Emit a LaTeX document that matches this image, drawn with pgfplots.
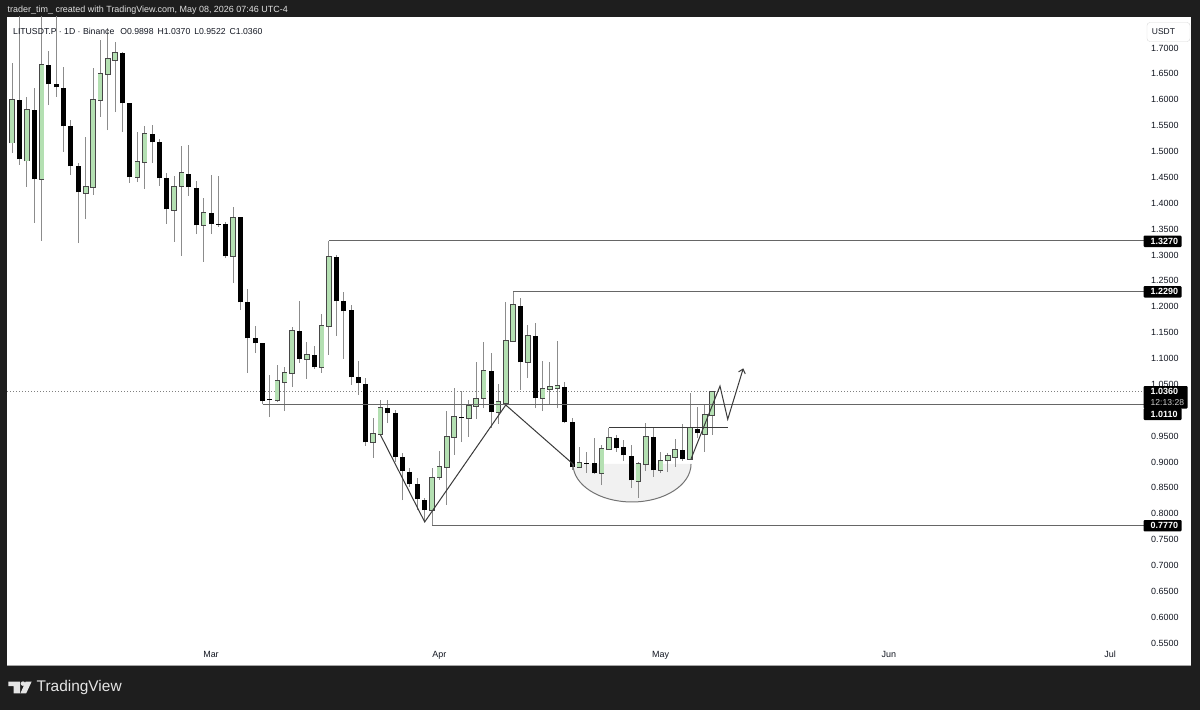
\documentclass[border=0pt]{standalone}
\usepackage{fontspec}
\setmainfont{Liberation Sans}
\usepackage{pgfplots}
\pgfplotsset{compat=1.18}
\usepackage{pgfplotstable}
\usetikzlibrary{arrows.meta}
\definecolor{bg}{HTML}{1E1E1E}
\definecolor{cgreen}{HTML}{B4E0B2}
\definecolor{cbord}{HTML}{474747}
\definecolor{wick}{HTML}{8C8C8C}
\definecolor{txt}{HTML}{131722}
\definecolor{lvl}{HTML}{666666}
\definecolor{pat}{HTML}{3A3A3A}
\definecolor{cupfill}{HTML}{F1F1F1}

% d O H L C   (d = days from 1 March 2026)
\pgfplotstableread{
d O H L C
-27 1.5170 1.6710 1.4971 1.5995
-25 1.4822 1.6053 1.4319 1.5802
-23 1.4468 1.8000 1.3270 1.6671
-17 1.4198 1.5280 1.3695 1.4314
-16 1.4314 1.6613 1.4159 1.5995
-15 1.5995 1.7155 1.5667 1.6498
-14 1.6498 1.7386 1.5415 1.6788
-13 1.6768 1.7116 1.5763 1.6903
-10 1.4507 1.5376 1.4410 1.4797
-9 1.4797 1.5492 1.4275 1.5338
-5 1.3869 1.4526 1.3251 1.4314
-4 1.4333 1.5106 1.2980 1.4584
-1 1.3579 1.4101 1.2864 1.3811
3 1.2980 1.3927 1.2458 1.3714
9 1.0197 1.0873 1.0158 1.0564
10 1.0545 1.0835 0.9984 1.0719
11 1.0719 1.1608 1.0448 1.1530
13 1.0990 1.1318 1.0603 1.1067
15 1.0835 1.1859 1.0719 1.1627
16 1.1627 1.3270 1.1067 1.2961
22 0.9385 0.9849 0.9076 0.9540
23 0.9540 1.0197 0.9521 1.0042
30 0.8071 0.8883 0.7770 0.8690
31 0.8709 0.9211 0.8651 0.8902
32 0.8902 0.9984 0.8168 0.9482
33 0.9482 1.0429 0.9134 0.9868
35 0.9849 1.0197 0.9482 1.0081
36 1.0081 1.0931 0.9830 1.0216
37 1.0236 1.1318 1.0042 1.0757
39 0.9965 1.0506 0.9733 1.0158
40 1.0139 1.2091 1.0100 1.1337
41 1.1337 1.2290 1.1318 1.2033
43 1.0931 1.1646 1.0622 1.1434
45 1.0236 1.0951 0.9984 1.0409
46 1.0409 1.0931 1.0100 1.0448
47 1.0429 1.1337 1.0042 1.0467
50 0.8902 0.9289 0.8883 0.8980
53 0.8786 0.9327 0.8554 0.9250
54 0.9250 0.9656 0.9231 0.9463
58 0.8632 0.8999 0.8303 0.8960
59 0.8960 0.9752 0.8825 0.9482
61 0.8844 0.9192 0.8786 0.9018
62 0.9038 0.9173 0.8805 0.9115
63 0.9095 0.9443 0.8902 0.9231
65 0.9057 1.0332 0.9038 0.9656
67 0.9540 1.0100 0.9192 0.9907
68 0.9898 1.0370 0.9522 1.0360
}\greenC

\pgfplotstableread{
d O H L C
-26 1.5995 1.8000 1.4739 1.4855
-24 1.5802 1.6227 1.3618 1.4468
-22 1.6671 1.6942 1.5898 1.6304
-21 1.6304 1.8000 1.6053 1.6246
-20 1.6227 1.6633 1.4990 1.5492
-19 1.5492 1.5608 1.4546 1.4720
-18 1.4720 1.4777 1.3231 1.4217
-12 1.6903 1.6923 1.5376 1.5937
-11 1.5937 1.5937 1.4391 1.4507
-8 1.5338 1.5511 1.4777 1.5184
-7 1.5184 1.5241 1.4333 1.4488
-6 1.4488 1.4584 1.3599 1.3888
-3 1.4565 1.5125 1.4140 1.4314
-2 1.4295 1.4430 1.3405 1.3579
0 1.3811 1.4546 1.3405 1.3599
1 1.3599 1.4526 1.3541 1.3589
2 1.3599 1.3637 1.2941 1.2980
4 1.3734 1.3734 1.1936 1.2091
5 1.2091 1.2342 1.0719 1.1395
6 1.1395 1.1627 1.1105 1.1299
7 1.1299 1.1299 1.0110 1.0178
8 1.0216 1.0680 0.9868 1.0200
12 1.1530 1.2110 1.0912 1.0990
14 1.1067 1.1241 1.0796 1.0835
17 1.2961 1.3000 1.1434 1.2110
18 1.2110 1.2284 1.0990 1.1917
19 1.1936 1.2033 1.0487 1.0642
20 1.0642 1.0951 1.0294 1.0525
21 1.0506 1.0622 0.9308 0.9385
24 1.0042 1.0197 0.9752 0.9946
25 0.9946 1.0004 0.8999 0.9095
26 0.9095 0.9173 0.8264 0.8825
27 0.8805 0.8883 0.8516 0.8574
28 0.8574 0.8690 0.8071 0.8284
29 0.8264 0.8303 0.7840 0.8071
34 0.9868 1.0371 0.9385 0.9849
38 1.0757 1.1105 0.9656 0.9965
42 1.2013 1.2168 1.0390 1.0931
44 1.1434 1.1685 1.0042 1.0236
48 1.0448 1.0545 0.9752 0.9772
49 0.9772 0.9849 0.8844 0.8902
51 0.8980 0.9192 0.8786 0.8975
52 0.8980 0.9463 0.8776 0.8786
55 0.9463 0.9521 0.9192 0.9269
56 0.9289 0.9424 0.9018 0.9134
57 0.9115 0.9327 0.8496 0.8651
60 0.9482 0.9656 0.8709 0.8844
64 0.9231 0.9733 0.9018 0.9057
66 0.9637 1.0062 0.9463 0.9559
}\blackC

\begin{document}
\begin{tikzpicture}[x=1bp,y=-1bp]
\useasboundingbox (0,0) rectangle (1200,710);
\fill[bg] (0,0) rectangle (1200,710);
\fill[white] (7,17) rectangle (1191,665);
\draw[gray!70, line width=0.8bp] (7,665) -- (1191,665);
\node[anchor=west, inner sep=0pt, text=white!88!black, font=\fontsize{9}{11}\selectfont] at (7.5,10.5)
  {trader\_tim\_ created with TradingView.com, May 08, 2026 07:46 UTC-4};

\begin{axis}[
  at={(7bp,-645bp)}, anchor=south west,
  width=1137bp, height=628bp, scale only axis,
  xmin=-27.683, xmax=126.61, ymin=0.54615, ymax=1.75991,
  axis line style={draw=none},
  major tick length=0pt, tick style={draw=none},
  xtick={0,31,61,92,122}, xticklabels={Mar,Apr,May,Jun,Jul},
  ytick={0.55,0.60,0.65,0.70,0.75,0.80,0.85,0.90,0.95,1.05,1.10,1.15,1.20,1.25,1.30,1.35,1.40,1.45,1.50,1.55,1.60,1.65,1.70},
  yticklabel pos=right,
  scaled y ticks=false,
  /pgf/number format/assume math mode=true,
  yticklabel style={/pgf/number format/fixed, /pgf/number format/fixed zerofill, /pgf/number format/precision=4,
     anchor=west, inner sep=0pt, xshift=7bp, font=\fontsize{9}{10}\selectfont, text=txt},
  xticklabel style={anchor=north, inner sep=0pt, yshift=-6bp, font=\fontsize{9}{10}\selectfont, text=txt},
  wk/.style={draw=none, mark=none, error bars/.cd, y dir=plus, y explicit, error mark=none},
]
% cup shading
\fill[cupfill] (axis cs:49.12,0.8960) .. controls (axis cs:49.12,0.8555) and (axis cs:52.71,0.8226) .. (axis cs:57.13,0.8226)
   .. controls (axis cs:61.55,0.8226) and (axis cs:65.14,0.8555) .. (axis cs:65.14,0.8960) -- cycle;
% current price dotted line
\addplot[draw=gray, line width=0.8bp, dash pattern=on 1bp off 2bp] coordinates {(-27.683,1.036) (126.61,1.036)};
% wicks
\addplot[wk, error bar style={draw=wick, line width=1bp}]
  table[x=d, y=L, y error plus expr={\thisrow{H}-\thisrow{L}}] {\greenC};
\addplot[wk, error bar style={draw=wick, line width=1bp}]
  table[x=d, y=L, y error plus expr={\thisrow{H}-\thisrow{L}}] {\blackC};
% green bodies
\addplot[wk, error bar style={draw=cbord, line width=5.6bp}]
  table[x=d, y expr={\thisrow{O}-0.0013}, y error plus expr={\thisrow{C}-\thisrow{O}+0.0026}] {\greenC};
\addplot[wk, error bar style={draw=cgreen, line width=4bp}]
  table[x=d, y=O, y error plus expr={\thisrow{C}-\thisrow{O}}] {\greenC};
% black bodies
\addplot[wk, error bar style={draw=black, line width=5bp}]
  table[x=d, y expr={\thisrow{C}-0.0007}, y error plus expr={\thisrow{O}-\thisrow{C}+0.0014}] {\blackC};
% levels
\addplot[draw=lvl, line width=1bp] coordinates {(16,1.327) (126.61,1.327)};
\addplot[draw=lvl, line width=1bp] coordinates {(41,1.229) (126.61,1.229)};
\addplot[draw=lvl, line width=1bp] coordinates {(7,1.011) (126.61,1.011)};
\addplot[draw=lvl, line width=1bp] coordinates {(30,0.777) (126.61,0.777)};
% patterns
\addplot[draw=pat, line width=1bp] coordinates {(23,0.9521) (29,0.7840) (40,1.0100) (49.12,0.8960)};
\draw[draw=gray!90!black, line width=1bp] (axis cs:49.12,0.8960) .. controls (axis cs:49.12,0.8555) and (axis cs:52.71,0.8226) .. (axis cs:57.13,0.8226)
   .. controls (axis cs:61.55,0.8226) and (axis cs:65.14,0.8555) .. (axis cs:65.14,0.8960);
\addplot[draw=pat, line width=1bp] coordinates {(54,0.9656) (70.16,0.9656)};
\addplot[draw=pat, line width=1bp, -{Straight Barb[length=4bp,width=7bp]}] coordinates {(65.14,0.9057) (69.07,1.0467) (70.12,0.9824) (72.23,1.0809)};
\end{axis}

% legend line
\node[anchor=west, inner sep=0pt, text=txt, font=\fontsize{8.7}{11}\selectfont] at (13,31)
  {LITUSDT.P · 1D · Binance\hspace{6bp}O0.9898\hspace{4bp}H1.0370\hspace{4bp}L0.9522\hspace{4bp}C1.0360};

% USDT box
\draw[draw=gray!30, fill=white, rounded corners=3bp] (1147,22.5) rectangle (1190,41.5);
\node[inner sep=0pt, text=txt, font=\fontsize{8.5}{10}\selectfont] at (1163.5,32) {USDT};

% price tags
\begin{scope}[every node/.style={anchor=west, inner sep=0pt, font=\fontsize{9}{10}\selectfont\bfseries, text=white}]
\fill[black, rounded corners=1bp] (1143.5,235.6) rectangle (1181.5,247);
\node at (1150.5,241.3) {1.3270};
\fill[black, rounded corners=1bp] (1143.5,286.1) rectangle (1181.5,297.5);
\node at (1150.5,291.8) {1.2290};
\fill[black, rounded corners=1bp] (1143.5,386) rectangle (1187.5,408.5);
\node at (1150.5,391.6) {1.0360};
\node[font=\fontsize{8.6}{10}\selectfont, text=white!80!black] at (1150.5,402.6) {12:13:28};
\fill[black, rounded corners=1bp] (1143.5,408) rectangle (1181.5,420);
\node at (1150.5,414.2) {1.0110};
\fill[black, rounded corners=1bp] (1143.5,520) rectangle (1181.5,531.4);
\node at (1150.5,525.7) {0.7770};
\end{scope}

% TradingView logo
\fill[white!90!black] (8.3,681.7) rectangle (20,686) (13.6,681.7) rectangle (20,693.3);
\fill[white!90!black] (23,683.6) circle (2.3);
\fill[white!90!black] (25.6,681.7) -- (31.6,681.7) -- (26.2,693.3) -- (20.4,693.3) -- cycle;
\node[anchor=west, inner sep=0pt, text=white!90!black, font=\fontsize{15.5}{17}\selectfont] at (36.5,688) {TradingView};
\end{tikzpicture}
\end{document}
